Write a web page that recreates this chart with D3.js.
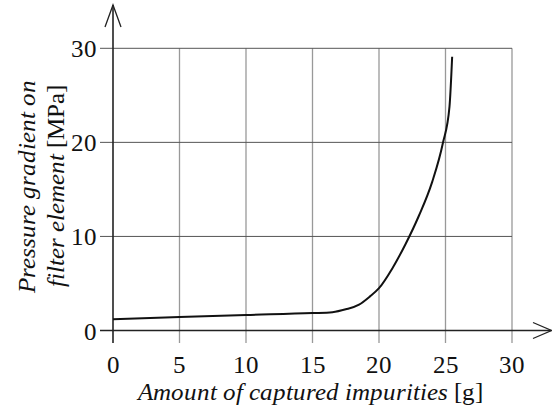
<!DOCTYPE html>
<html>
<head>
<meta charset="utf-8">
<script src="https://d3js.org/d3.v7.min.js"></script>
<style>
  @font-face { font-family: "ChartSerif"; font-style: normal; src: local("Liberation Serif"), local("LiberationSerif"), local("Times New Roman"); }
  @font-face { font-family: "ChartSerif"; font-style: italic; src: local("Liberation Serif Italic"), local("LiberationSerif-Italic"), local("Times New Roman Italic"); }
  svg text, svg tspan { font-family: "ChartSerif", "Liberation Serif", "Times New Roman", serif !important; }
</style>
</head>
<body style="margin:0">
<script>
// values
const impurity = [0, 5, 10, 15, 16.5, 17.5, 18.5, 19.3, 20, 21, 22, 23, 24, 24.8, 25.3, 25.5];
const pressure = [1.2, 1.43, 1.65, 1.85, 1.95, 2.25, 2.75, 3.6, 4.5, 6.6, 9.2, 12.2, 15.8, 19.9, 23.8, 29.1];
const xTicks = [0, 5, 10, 15, 20, 25, 30];
const yTicks = [0, 10, 20, 30];

const width = 552;
const height = 412;

const svg = d3.select("body")
    .append("svg")
    .attr("width", width)
    .attr("height", height);

const x = d3.scaleLinear().domain([0, 30]).range([113, 512]);
const y = d3.scaleLinear().domain([0, 30]).range([330.5, 48.3]);

// vertical grid, runs a bit below the axis
svg.selectAll("line.vgrid")
    .data(xTicks.filter(d => d > 0))
    .enter()
    .append("line")
    .attr("class", "vgrid")
    .attr("x1", d => x(d)).attr("x2", d => x(d))
    .attr("y1", y(30)).attr("y2", 343)
    .attr("stroke", "#999")
    .attr("stroke-width", 1.3);

// horizontal grid (darker)
svg.selectAll("line.hgrid")
    .data(yTicks.filter(d => d > 0))
    .enter()
    .append("line")
    .attr("class", "hgrid")
    .attr("x1", 100).attr("x2", x(30))
    .attr("y1", d => y(d)).attr("y2", d => y(d))
    .attr("stroke", "#555")
    .attr("stroke-width", 1);

// axes with arrow heads
const axisColor = "#222";
svg.append("line")
    .attr("x1", x(0)).attr("x2", x(0))
    .attr("y1", 5).attr("y2", 343)
    .attr("stroke", axisColor).attr("stroke-width", 1.6);
svg.append("path")
    .attr("d", `M${x(0) - 8},27L${x(0)},5L${x(0) + 8},27`)
    .attr("fill", "none").attr("stroke", axisColor).attr("stroke-width", 1.3);

svg.append("line")
    .attr("x1", 100).attr("x2", 551.5)
    .attr("y1", y(0)).attr("y2", y(0))
    .attr("stroke", axisColor).attr("stroke-width", 1.6);
svg.append("path")
    .attr("d", `M533,${y(0) - 8}L551.5,${y(0)}L533,${y(0) + 8}`)
    .attr("fill", "none").attr("stroke", axisColor).attr("stroke-width", 1.3);

// the curve
const line = d3.line()
    .x((d, i) => x(impurity[i]))
    .y(d => y(d))
    .curve(d3.curveMonotoneX);

svg.append("path")
    .datum(pressure)
    .attr("d", line)
    .attr("fill", "none")
    .attr("stroke", "#111")
    .attr("stroke-width", 2);

// tick labels
svg.selectAll("text.xtick")
    .data(xTicks)
    .enter()
    .append("text")
    .attr("class", "xtick")
    .attr("x", d => x(d))
    .attr("y", 372.5)
    .attr("text-anchor", "middle")
    .text(d => d);

svg.selectAll("text.ytick")
    .data(yTicks)
    .enter()
    .append("text")
    .attr("class", "ytick")
    .attr("x", 97)
    .attr("y", d => y(d) + 9)
    .attr("text-anchor", "end")
    .text(d => d);

// axis titles
const xt = svg.append("text")
    .attr("x", 310)
    .attr("y", 400)
    .attr("text-anchor", "middle");
xt.append("tspan").style("font-style", "italic").text("Amount of captured impurities ");
xt.append("tspan").text("[g]");

const yt = svg.append("g")
    .attr("transform", "translate(0,186) rotate(-90)");
yt.append("text")
    .attr("x", 0).attr("y", 35)
    .attr("text-anchor", "middle")
    .style("font-style", "italic")
    .text("Pressure gradient on");
const yt2 = yt.append("text")
    .attr("x", 0).attr("y", 64)
    .attr("text-anchor", "middle");
yt2.append("tspan").style("font-style", "italic").text("filter element ");
yt2.append("tspan").text("[MPa]");

svg.selectAll("text")
    .attr("font-family", "Liberation Serif")
    .style("font-size", "25px")
    .attr("fill", "#111");
</script>
</body>
</html>
